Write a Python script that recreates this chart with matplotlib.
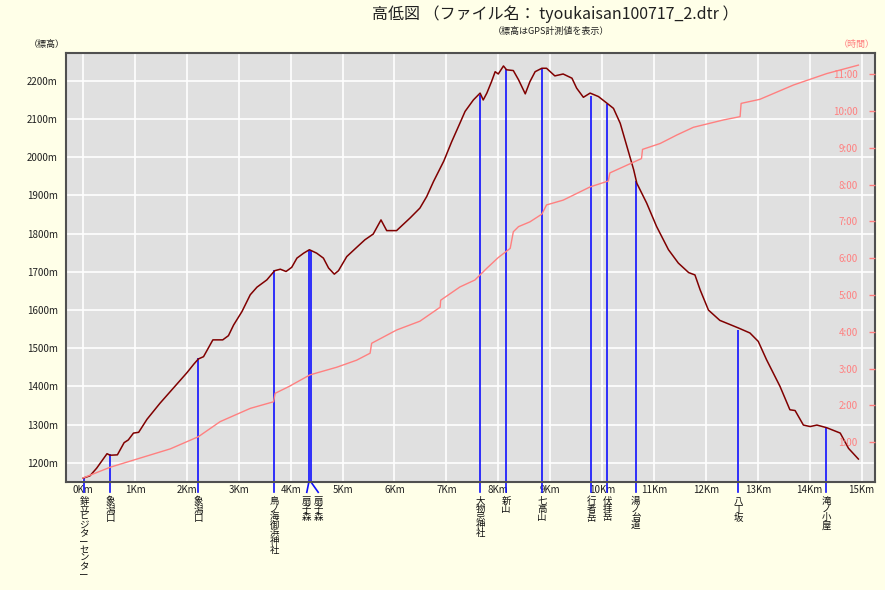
# -*- coding: UTF-8 -*-
import numpy as np
import matplotlib
matplotlib.use('Agg')
import matplotlib.pyplot as plt
import matplotlib.transforms as mtransforms

plt.rcParams['font.family'] = ['Noto Sans CJK JP', 'DejaVu Sans']

# 標高プロファイル (距離km, 標高m)
dist_km = [0.00, 0.13, 0.26, 0.46, 0.52, 0.66, 0.79, 0.87, 0.97, 1.07,
	1.23, 1.48, 1.74, 2.00, 2.13, 2.22, 2.32, 2.50, 2.69, 2.80,
	2.90, 3.06, 3.22, 3.35, 3.54, 3.69, 3.80, 3.91, 4.02, 4.12,
	4.25, 4.36, 4.50, 4.63, 4.73, 4.84, 4.92, 5.08, 5.27, 5.43,
	5.59, 5.74, 5.85, 6.04, 6.30, 6.49, 6.62, 6.75, 6.95, 7.10,
	7.26, 7.36, 7.52, 7.65, 7.71, 7.78, 7.87, 7.94, 8.00, 8.10,
	8.16, 8.29, 8.39, 8.52, 8.61, 8.71, 8.84, 8.93, 9.09, 9.25,
	9.42, 9.51, 9.64, 9.77, 9.93, 10.09, 10.22, 10.35, 10.48, 10.61,
	10.67, 10.86, 11.05, 11.28, 11.47, 11.67, 11.79, 11.89, 12.05, 12.27,
	12.63, 12.85, 13.01, 13.17, 13.43, 13.62, 13.72, 13.88, 14.01, 14.14,
	14.33, 14.59, 14.75, 14.94]
elev_m = [1160, 1166, 1186, 1224, 1220, 1221, 1253, 1260, 1278, 1280,
	1314, 1356, 1396, 1436, 1458, 1472, 1478, 1522, 1522, 1533,
	1561, 1596, 1640, 1660, 1679, 1703, 1707, 1701, 1712, 1736,
	1749, 1758, 1749, 1736, 1710, 1694, 1703, 1740, 1764, 1784,
	1799, 1836, 1808, 1808, 1841, 1867, 1897, 1936, 1990, 2040,
	2089, 2120, 2150, 2168, 2150, 2168, 2198, 2224, 2218, 2239,
	2229, 2227, 2203, 2166, 2198, 2224, 2233, 2233, 2213, 2218,
	2207, 2181, 2157, 2168, 2159, 2142, 2128, 2089, 2028, 1967,
	1932, 1880, 1819, 1758, 1723, 1698, 1692, 1653, 1600, 1573,
	1553, 1540, 1518, 1470, 1400, 1339, 1337, 1299, 1295, 1299,
	1292, 1278, 1238, 1210]

# 経過時間 (距離km, 時間h)
time_km = [0.00, 0.52, 1.03, 1.68, 2.22, 2.64, 3.22, 3.67, 3.70, 3.96,
	4.37, 4.89, 5.27, 5.53, 5.56, 6.04, 6.49, 6.88, 6.89, 7.26,
	7.55, 7.78, 8.00, 8.23, 8.29, 8.39, 8.61, 8.84, 8.93, 9.25,
	9.77, 10.12, 10.15, 10.76, 10.78, 11.12, 11.44, 11.76, 12.34, 12.66,
	12.68, 13.04, 13.69, 14.33, 14.94]
time_h = [0.03, 0.32, 0.54, 0.82, 1.15, 1.56, 1.92, 2.10, 2.33, 2.51,
	2.83, 3.04, 3.23, 3.42, 3.69, 4.05, 4.29, 4.67, 4.86, 5.22,
	5.41, 5.73, 6.02, 6.27, 6.72, 6.86, 6.99, 7.20, 7.45, 7.58,
	7.94, 8.10, 8.32, 8.71, 8.96, 9.12, 9.35, 9.56, 9.76, 9.85,
	10.21, 10.32, 10.71, 11.02, 11.25]

# 通過地点
wp_names = ['鉾立ビジターセンター', '象潟口', '象潟口', '鳥ノ海御浜神社', '扇子森', '扇子森',
	'大物忌神社', '新山', '七高山', '行者岳', '伏拝岳', '湯ノ台道', '八丁坂', '滝ノ小屋']
wp_km = [0.02, 0.52, 2.22, 3.68, 4.35, 4.39, 7.65, 8.15, 8.84, 9.79, 10.10, 10.65, 12.62, 14.32]
wp_elev = [1160, 1222, 1475, 1705, 1757, 1757, 2163, 2232, 2230, 2160, 2140, 1937, 1548, 1292]

xtick_km = list(range(0, 16))
elev_ticks = list(range(1200, 2201, 100))
hour_ticks = list(range(1, 12))


def draw():
	fig = plt.figure(figsize=(8.85, 5.9), dpi=100, facecolor='#FFFFE8')
	ax = fig.add_axes([0.0746, 0.1831, 0.9141, 0.7271])
	ax.set_facecolor('#E0E0E0')
	ax.set_xlim(-0.33, 15.26)
	ax.set_ylim(1150, 2273)

	# グリッド
	for k in xtick_km:
		ax.axvline(k, color='white', lw=1.2, zorder=0)
	for e in elev_ticks:
		ax.axhline(e, color='white', lw=1.2, zorder=0)

	ax.set_xticks(xtick_km)
	ax.set_xticklabels(['%dKm' % k for k in xtick_km])
	ax.set_yticks(elev_ticks)
	ax.set_yticklabels(['%dm' % e for e in elev_ticks])
	ax.tick_params(axis='both', length=0, labelsize=7, colors='#202020')
	ax.tick_params(axis='x', pad=2)
	ax.tick_params(axis='y', pad=6)
	for s in ax.spines.values():
		s.set_color('#505050')
		s.set_linewidth(1.5)

	# 時間軸 (右)
	ax2 = ax.twinx()
	ax2.set_ylim(-0.08, 11.58)
	ax2.set_yticks(hour_ticks)
	ax2.set_yticklabels(['%d:00' % h for h in hour_ticks])
	ax2.tick_params(axis='y', direction='in', length=4.5, width=1, pad=-12.5,
		labelsize=7, colors='#FF8080')
	for lab in ax2.get_yticklabels():
		lab.set_horizontalalignment('right')
	for s in ax2.spines.values():
		s.set_visible(False)

	# 通過地点の縦線
	ax.vlines(wp_km, 1150, wp_elev, colors='#1010FF', lw=1.2, zorder=2)
	trans = mtransforms.blended_transform_factory(ax.transData, ax.transAxes)
	for i in range(len(wp_names)):
		lab_x = wp_km[i]
		if i == 4:
			lab_x = wp_km[i] - 0.04
		if i == 5:
			lab_x = wp_km[i] + 0.14
		ax.plot([wp_km[i], lab_x], [0, -0.024], color='#1010FF', lw=1.2,
			transform=trans, clip_on=False)
		ax.text(lab_x, -0.034, '\n'.join(wp_names[i]), transform=trans,
			ha='center', va='top', fontsize=6.8, linespacing=0.88, color='#101010')

	# 曲線
	ax2.plot(time_km, time_h, color='#FF8080', lw=1.0, zorder=3)
	ax.plot(dist_km, elev_m, color='#800000', lw=1.1, zorder=4)

	# タイトル等
	fig.text(0.627, 0.976, '高低図 （ファイル名： tyoukaisan100717_2.dtr ）',
		ha='center', va='center', fontsize=11.5, color='#202020')
	fig.text(0.623, 0.946, '（標高はGPS計測値を表示）', ha='center', va='center',
		fontsize=6.5, color='#202020')
	fig.text(0.053, 0.925, '（標高）', ha='center', va='center', fontsize=6.5, color='#202020')
	fig.text(0.968, 0.925, '（時間）', ha='center', va='center', fontsize=6.5, color='#FF8080')

	fig.savefig('out.png', dpi=100, facecolor=fig.get_facecolor())


def main():
	draw()


if __name__ == '__main__':
	main()
